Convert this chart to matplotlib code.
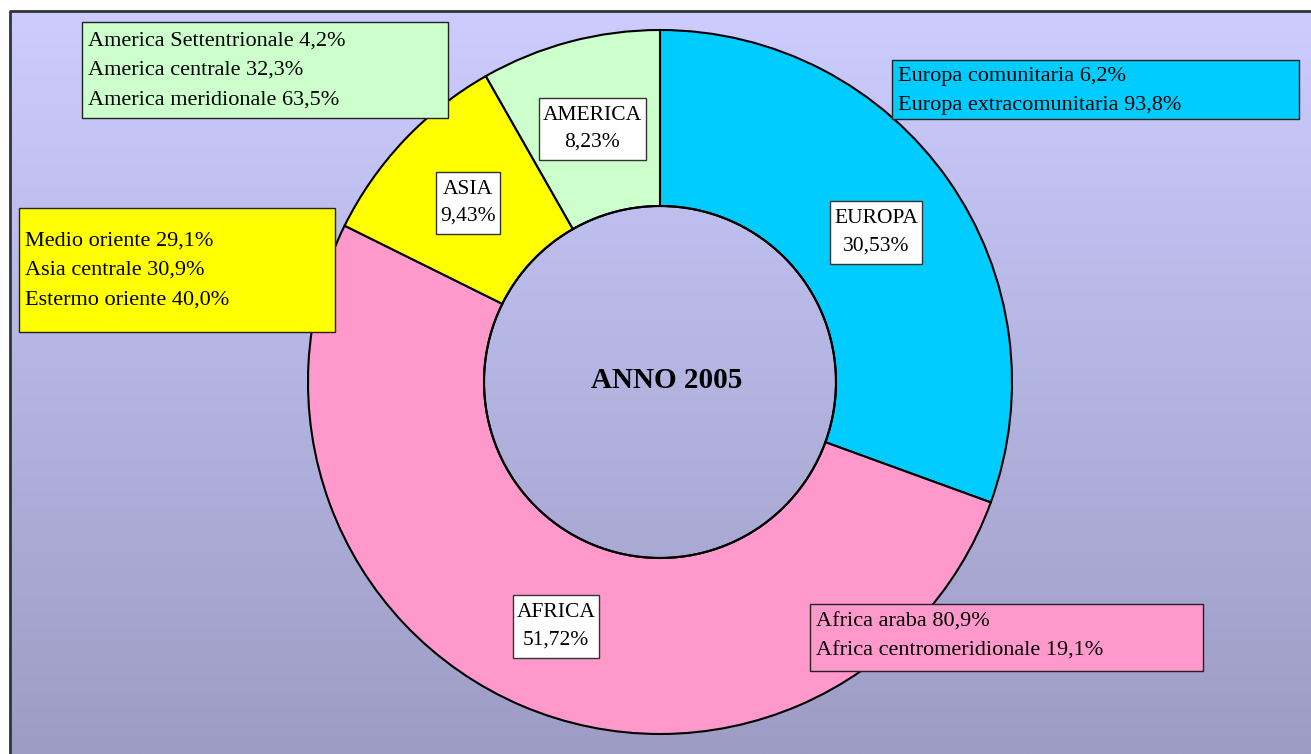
import matplotlib.pyplot as plt
import numpy as np
from matplotlib.patches import Wedge, Circle, Rectangle
from matplotlib.colors import LinearSegmentedColormap

plt.rcParams['font.family'] = ['Liberation Serif', 'DejaVu Serif']

# dati
regioni = ['EUROPA', 'AFRICA', 'ASIA', 'AMERICA']
percentuali = [30.53, 51.72, 9.43, 8.23]
etichette = ['30,53%', '51,72%', '9,43%', '8,23%']
colori = ['#00CCFF', '#FF99CC', '#FFFF00', '#CCFFCC']

dettaglio_europa = ['Europa comunitaria 6,2%', 'Europa extracomunitaria 93,8%']
dettaglio_africa = ['Africa araba 80,9%', 'Africa centromeridionale 19,1%']
dettaglio_asia = ['Medio oriente 29,1%', 'Asia centrale 30,9%', 'Estermo oriente 40,0%']
dettaglio_america = ['America Settentrionale 4,2%', 'America centrale 32,3%',
                     'America meridionale 63,5%']
titolo = 'ANNO 2005'

W, H = 1311, 754
fig = plt.figure(figsize=(W / 100, H / 100), dpi=100)
ax = fig.add_axes([0, 0, 1, 1])
ax.set_xlim(0, W)
ax.set_ylim(H, 0)
ax.axis('off')

# sfondo sfumato
cmap = LinearSegmentedColormap.from_list('bg', ['#CCCCFF', '#9C9CC4'])
grad = np.linspace(0, 1, 256).reshape(-1, 1)
ax.imshow(grad, cmap=cmap, extent=(10, W, H, 11), aspect='auto', zorder=0)
ax.plot([10, 10, W], [H, 11, 11], color='#333333', lw=2, zorder=1)

# ciambella
cx, cy, R, r = 660, 382, 352, 176
tot = sum(percentuali)
start = 90
mids = []
for p, c in zip(percentuali, colori):
    ang = p / tot * 360
    ax.add_patch(Wedge((cx, cy), R, -start, -start + ang, width=R - r,
                       facecolor=c, edgecolor='black', lw=1.5, zorder=2))
    mids.append(start - ang / 2)
    start -= ang
ax.add_patch(Circle((cx, cy), r, fill=False, edgecolor='black', lw=1.5, zorder=3))

rm = (R + r) / 2
testi = []
for nome, et, a in zip(regioni, etichette, mids):
    x = cx + rm * np.cos(np.radians(a))
    y = cy - rm * np.sin(np.radians(a)) + 2
    testi.append(ax.text(x, y, nome + '\n' + et, ha='center', va='center',
                         fontsize=15.5, linespacing=1.6, zorder=6))

# riquadri bianchi attorno alle etichette
fig.canvas.draw()
inv = ax.transData.inverted()
for t in testi:
    bb = t.get_window_extent()
    (x0, y0), (x1, y1) = inv.transform([(bb.x0, bb.y0), (bb.x1, bb.y1)])
    xa, xb = min(x0, x1) - 4, max(x0, x1) + 4
    ya, yb = min(y0, y1) - 8, max(y0, y1) + 8
    ax.add_patch(Rectangle((xa, ya), xb - xa, yb - ya, facecolor='white',
                           edgecolor='#333333', lw=1, zorder=5))

ax.text(667, 380, titolo, ha='center', va='center', fontsize=21,
        fontweight='bold', zorder=5)

# riquadri di dettaglio
def riquadro(x0, y0, x1, y1, righe, y_first, colore):
    ax.add_patch(Rectangle((x0, y0), x1 - x0, y1 - y0, facecolor=colore,
                           edgecolor='#222222', lw=1, zorder=4))
    for i, t in enumerate(righe):
        ax.text(x0 + 6, y_first + i * 29.5, t, ha='left', va='center',
                fontsize=16, zorder=5)

riquadro(82, 22, 448, 118, dettaglio_america, 41, '#CCFFCC')
riquadro(19, 208, 335, 332, dettaglio_asia, 241, '#FFFF00')
riquadro(892, 60, 1299, 119, dettaglio_europa, 76, '#00CCFF')
riquadro(810, 604, 1203, 671, dettaglio_africa, 622, '#FF99CC')

fig.savefig('out.png', dpi=100)
